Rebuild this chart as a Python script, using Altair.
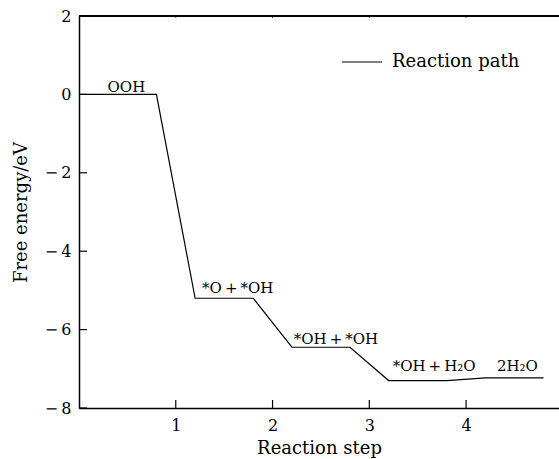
import altair as alt
import pandas as pd

# Free-energy profile of the reaction path
steps = [0.0, 0.8, 1.2, 1.8, 2.2, 2.8, 3.2, 3.8, 4.2, 4.8]
energy = [0.0, 0.0, -5.2, -5.2, -6.45, -6.45, -7.3, -7.3, -7.23, -7.23]

# Intermediate labels
species = ["OOH", "*O\u2009+\u2009*OH", "*OH\u2009+\u2009*OH", "*OH\u2009+\u2009H₂O", "2H₂O"]
species_x = [0.49, 1.64, 2.655, 3.67, 4.53]
species_y = [0.2, -4.94, -6.24, -6.93, -6.93]

x_ticks = [1, 2, 3, 4]
y_ticks = [2, 0, -2, -4, -6, -8]

FONT = "DejaVu Serif"
W, H = 480, 392

path = pd.DataFrame({"step": steps, "energy": energy, "series": "Reaction path"})
labels = pd.DataFrame({"step": species_x, "energy": species_y, "name": species})
xt = pd.DataFrame({"v": x_ticks})
yt = pd.DataFrame({"v": y_ticks})

xs = alt.Scale(domain=[0, 4.96], nice=False, zero=False)
ys = alt.Scale(domain=[-8, 2], nice=False, zero=False)

minus = "datum.value < 0 ? '\u2212\u2009' + abs(datum.value) : datum.label"

line = alt.Chart(path).mark_line(color="black", strokeWidth=1.2).encode(
    x=alt.X("step:Q", scale=xs,
            axis=alt.Axis(orient="bottom", values=x_ticks, format="d", ticks=False,
                          grid=False, domainColor="black", domainWidth=1.5,
                          labelPadding=9, title="Reaction step", titlePadding=6)),
    y=alt.Y("energy:Q", scale=ys,
            axis=alt.Axis(orient="left", values=y_ticks, ticks=False, grid=False,
                          domainColor="black", domainWidth=1.5, labelPadding=8,
                          labelExpr=minus, title="Free energy/eV", titlePadding=14)),
    color=alt.Color("series:N", scale=alt.Scale(range=["black"]),
                    legend=alt.Legend(orient="none", legendX=262, legendY=25,
                                      title=None, symbolType="stroke",
                                      symbolSize=1600, symbolStrokeWidth=1.2,
                                      labelFont=FONT, labelFontSize=18,
                                      labelColor="black", labelOffset=9)),
)

# inward tick marks along the bottom and left edges
bottom_ticks = alt.Chart(xt).mark_rule(color="black", strokeWidth=1.2).encode(
    x=alt.X("v:Q", scale=xs), y=alt.value(H), y2=alt.value(H - 8))
left_ticks = alt.Chart(yt).mark_rule(color="black", strokeWidth=1.2).encode(
    y=alt.Y("v:Q", scale=ys), x=alt.value(0), x2=alt.value(8))
top_ticks = alt.Chart(xt).mark_rule(color="#444", strokeWidth=1).encode(
    x=alt.X("v:Q", scale=xs), y=alt.value(0), y2=alt.value(2))
# top frame line
top_frame = alt.Chart(xt).mark_rule(color="black", strokeWidth=1.5).encode(
    x=alt.value(0), x2=alt.value(W), y=alt.value(0))

text = alt.Chart(labels).mark_text(font=FONT, fontSize=15, color="black",
                                   baseline="middle", align="center").encode(
    x=alt.X("step:Q", scale=xs),
    y=alt.Y("energy:Q", scale=ys),
    text="name:N",
)

chart = (
    alt.layer(line, bottom_ticks, left_ticks, top_ticks, top_frame, text)
    .properties(width=W, height=H, background="white",
                autosize=alt.AutoSizeParams(type="none"),
                padding={"left": 79, "top": 16, "right": 0, "bottom": 51})
    .configure_view(stroke=None)
    .configure_axis(labelFont=FONT, labelFontSize=16, labelColor="black",
                    titleFont=FONT, titleFontSize=18, titleFontWeight="normal",
                    titleColor="black")
)

chart.save("out.html", embed_options={"renderer": "svg", "actions": False})
